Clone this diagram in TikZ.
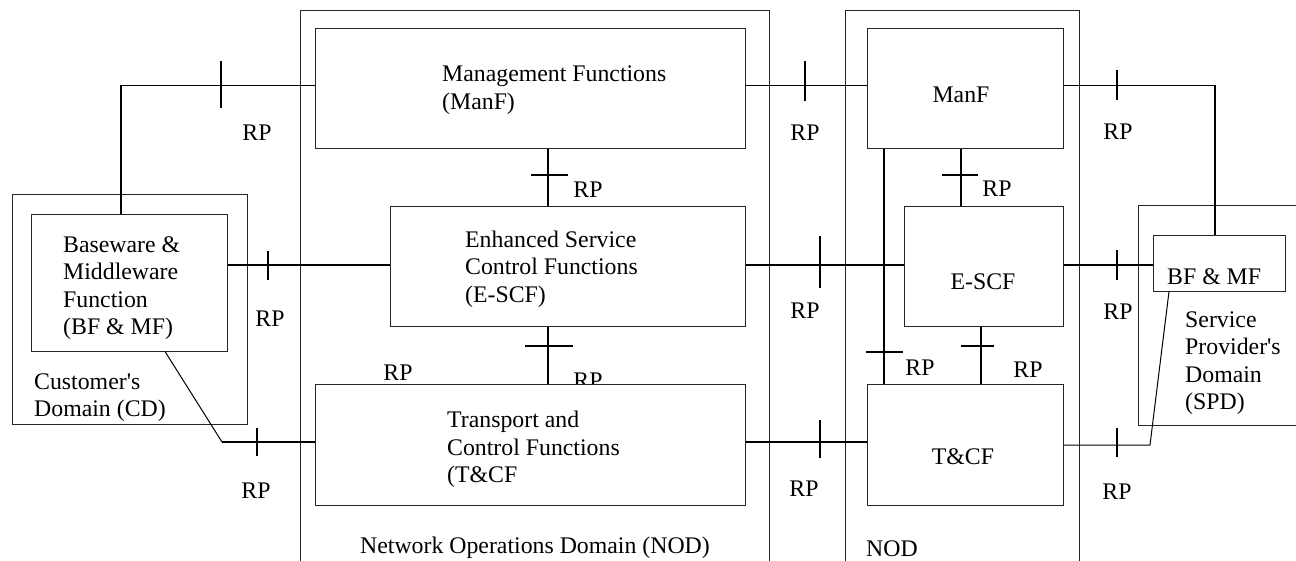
\documentclass[tikz,border=0pt]{standalone}
\usepackage{fontspec}
\setmainfont{Liberation Serif}[Ligatures=TeXOff]
\begin{document}
\begin{tikzpicture}[x=1pt,y=-1pt,
  box/.style={draw=black!85, line width=1pt, fill=white, inner sep=0pt},
  dom/.style={draw=black!85, line width=1pt},
  thinc/.style={line width=1pt},
  boldc/.style={line width=1.7pt},
  tickm/.style={line width=1.7pt},
  lbl/.style={inner sep=0pt, font=\fontsize{23.8}{27.5}\selectfont},
  txt/.style={lbl, align=left, anchor=west}]

\useasboundingbox (0,0) rectangle (1296,560);

% domains
\draw[dom] (300,561) -- (300,10) -- (769,10) -- (769,561);
\draw[dom] (845,561) -- (845,10) -- (1079,10) -- (1079,561);
\draw[dom] (1300,205) -- (1138,205) -- (1138,425) -- (1300,425);
\node[box, fill=none, minimum width=235pt, minimum height=230pt] (cd) at (129.5,309) {};

% labels that lie under boxes
\node[lbl] (rp5) at (588,381) {RP};

% function boxes
\node[box, minimum width=430pt, minimum height=120pt] (manf1) at (530,88) {};
\node[box, minimum width=355pt, minimum height=120pt] (escf1) at (567.5,266) {};
\node[box, minimum width=430pt, minimum height=121pt] (tcf1) at (530,444.5) {};
\node[box, minimum width=196pt, minimum height=120pt] (manf2) at (965,88) {};
\node[box, minimum width=159pt, minimum height=120pt] (escf2) at (983.5,266) {};
\node[box, minimum width=196pt, minimum height=121pt] (tcf2) at (965,444.5) {};
\node[box, minimum width=196pt, minimum height=137pt] (bfmf1) at (129,282.5) {};
\node[box, minimum width=132pt, minimum height=56pt] (bfmf2) at (1219,263) {};

% box texts
\node[txt] (tmanf1) at (442,90) {Management Functions\\(ManF)};
\node[txt] (tescf1) at (465,269) {Enhanced Service\\Control Functions\\(E-SCF)};
\node[txt] (ttcf1) at (447,449.5) {Transport and\\Control Functions\\(T\&CF};
\node[txt] (tbfmf1) at (63,288) {Baseware \&\\Middleware\\Function\\(BF \& MF)};
\node[txt] (tcd) at (34,397.5) {Customer's\\Domain (CD)};
\node[txt] (tspd) at (1185,363) {Service\\Provider's\\Domain\\(SPD)};
\node[txt] (tbfmf2) at (1167,277) {BF \& MF};
\node[lbl] (tmanf2) at (961,95) {ManF};
\node[lbl] (tescf2) at (983,282) {E-SCF};
\node[lbl] (ttcf2) at (963,457) {T\&CF};
\node[lbl] (tnod1) at (535,548) {Network Operations Domain (NOD)};
\node[lbl, anchor=west] (tnod2) at (866,549) {NOD};

% connectors
\coordinate (c1) at (121,85);
\draw[boldc] (121,0 |- bfmf1.north) -- (c1);
\draw[thinc] (c1) -- (manf1.west |- 0,85);
\draw[boldc] (bfmf1.east |- 0,265) -- (escf1.west |- 0,265);
\coordinate (c3) at (222,442);
\draw[thinc] (165,0 |- bfmf1.south) -- (c3);
\draw[boldc] (c3) -- (tcf1.west |- 0,442);
\draw[boldc] (548,0 |- manf1.south) -- (548,0 |- escf1.north);
\draw[boldc] (548,0 |- escf1.south) -- (548,0 |- tcf1.north);
\draw[thinc] (manf1.east |- 0,85) -- (manf2.west |- 0,85);
\draw[boldc] (escf1.east |- 0,265) -- (escf2.west |- 0,265);
\draw[boldc] (tcf1.east |- 0,442) -- (tcf2.west |- 0,442);
\draw[boldc] (961,0 |- manf2.south) -- (961,0 |- escf2.north);
\draw[boldc] (884,0 |- manf2.south) -- (884,0 |- tcf2.north);
\draw[boldc] (981,0 |- escf2.south) -- (981,0 |- tcf2.north);
\coordinate (c12) at (1215,85);
\draw[thinc] (manf2.east |- 0,85) -- (c12);
\draw[boldc] (c12) -- (1215,0 |- bfmf2.north);
\draw[boldc] (escf2.east |- 0,265) -- (bfmf2.west |- 0,265);
\coordinate (c14) at (1150,445);
\draw[thinc] (tcf2.east |- 0,445) -- (c14) -- (1169,0 |- bfmf2.south);

% reference point ticks
\draw[tickm] (221,61) -- (221,108);
\draw[tickm] (268,251) -- (268,280);
\draw[tickm] (257,428) -- (257,456);
\draw[tickm] (531,175) -- (568,175);
\draw[tickm] (525,346) -- (573,346);
\draw[tickm] (805,61) -- (805,101);
\draw[tickm] (820,236) -- (820,288);
\draw[tickm] (820,420) -- (820,458);
\draw[tickm] (942,175) -- (978,175);
\draw[tickm] (866,352) -- (903,352);
\draw[tickm] (961,346) -- (994,346);
\draw[tickm] (1117,70) -- (1117,100);
\draw[tickm] (1117,250) -- (1117,280);
\draw[tickm] (1117,428) -- (1117,457);

% RP labels
\node[lbl] (rp1) at (257,133) {RP};
\node[lbl] (rp2) at (270,319) {RP};
\node[lbl] (rp3) at (256,491) {RP};
\node[lbl] (rp4) at (588,190) {RP};
\node[lbl] (rp6) at (398,373) {RP};
\node[lbl] (rp7) at (805,133) {RP};
\node[lbl] (rp8) at (805,311) {RP};
\node[lbl] (rp9) at (804,489) {RP};
\node[lbl] (rp10) at (997,189) {RP};
\node[lbl] (rp11) at (920,368) {RP};
\node[lbl] (rp12) at (1028,370) {RP};
\node[lbl] (rp13) at (1118,132) {RP};
\node[lbl] (rp14) at (1118,312) {RP};
\node[lbl] (rp15) at (1117,492) {RP};
\end{tikzpicture}
\end{document}
